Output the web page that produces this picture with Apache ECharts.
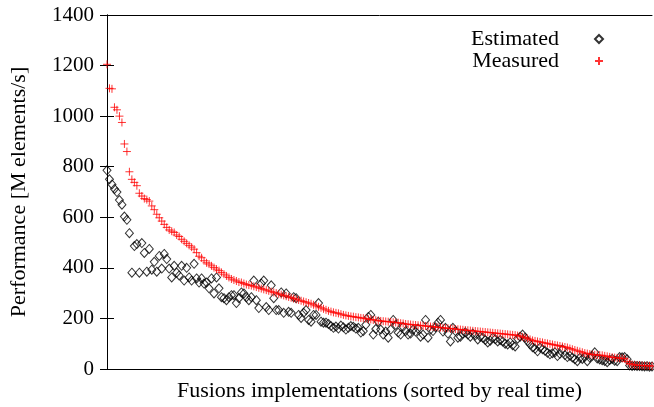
<!DOCTYPE html>
<html>
<head>
<meta charset="utf-8">
<script src="https://cdn.jsdelivr.net/npm/echarts@6/dist/echarts.min.js"></script>
<style>
  html, body { margin: 0; padding: 0; background: #fff; overflow: hidden; }
  #chart { width: 654px; height: 407px; }
</style>
</head>
<body>
<div id="chart"></div>
<script>
// Fusion implementations, ordered by measured (real) run time.
// Performance in millions of elements per second.
const seriesNames = ['Estimated', 'Measured'];
const yTicks = [0, 200, 400, 600, 800, 1000, 1200, 1400];

const measured = [
  1205, 1110, 1108, 1035, 1025, 1000, 975, 890, 860, 780,
  750, 738, 725, 695, 684, 674, 670, 664, 645, 630,
  612, 598, 585, 572, 560, 550, 545, 540, 530, 524,
  513, 505, 497, 489, 482, 474, 460, 446, 440, 428,
  420, 415, 408, 401, 395, 389, 382, 375, 368, 362,
  356, 352, 348, 344, 342, 338, 334, 332, 330, 327,
  324, 321, 318, 315, 312, 309, 306, 303, 300, 297,
  294, 291, 288, 285, 282, 279, 276, 273, 270, 267,
  264, 261, 258, 254, 250, 246, 242, 238, 234, 230,
  227, 224, 222, 220, 217, 214, 212, 210, 208, 207,
  205, 204, 202, 201, 199, 197, 196, 194, 193, 191,
  190, 189, 188, 187, 186, 185, 184, 183, 181, 180,
  178, 177, 176, 175, 174, 173, 172, 171, 170, 169,
  168, 167, 166, 165, 164, 163, 162, 161, 160, 159,
  158, 157, 156, 155, 154, 153, 152, 151, 150, 149,
  148, 147, 146, 145, 144, 143, 142, 141, 140, 139,
  138, 137, 136, 135, 134, 132, 130, 127, 124, 121,
  117, 113, 111, 109, 107, 105, 103, 101, 99, 97,
  95, 93, 91, 89, 87, 85, 81, 78, 75, 72,
  69, 66, 63, 61, 59, 57, 56, 55, 55, 54,
  52, 50, 48, 46, 45, 44, 43, 42, 40, 30,
  22, 18, 16, 15, 14, 14, 13, 13, 12, 12
];

const estimated = [
  786, 750, 730, 712, 700, 668, 650, 603, 590, 537,
  381, 486, 494, 381, 498, 459, 385, 475, 393, 424,
  385, 447, 397, 455, 435, 397, 362, 408, 381, 370,
  408, 350, 400, 362, 350, 416, 358, 342, 358, 338,
  342, 319, 358, 299, 362, 319, 284, 280, 272, 284,
  292, 292, 261, 280, 303, 299, 284, 272, 284, 350,
  272, 241, 338, 350, 245, 233, 331, 280, 233, 233,
  303, 222, 299, 226, 222, 284, 280, 214, 202, 222,
  233, 194, 187, 214, 214, 261, 187, 183, 183, 178,
  170, 163, 168, 160, 172, 165, 156, 163, 170, 167,
  160, 163, 144, 150, 175, 206, 214, 136, 158, 187,
  156, 136, 148, 124, 156, 194, 175, 144, 136, 167,
  150, 136, 140, 156, 148, 160, 128, 136, 194, 124,
  156, 150, 165, 183, 194, 148, 163, 140, 109, 163,
  150, 124, 128, 140, 145, 136, 128, 140, 132, 117,
  128, 124, 115, 105, 112, 124, 118, 109, 115, 109,
  100, 97, 105, 94, 89, 120, 128, 136, 124, 110,
  98, 86, 80, 70, 85, 78, 72, 64, 58, 62,
  66, 51, 60, 78, 55, 47, 52, 45, 39, 31,
  44, 40, 47, 31, 45, 51, 66, 42, 38, 35,
  32, 27, 36, 40, 33, 31, 47, 46, 47, 39,
  14, 12, 13, 12, 12, 11, 10, 11, 9, 10
];

const toPoints = arr => arr.map((v, i) => [i, v]);

const serif = 'Liberation Serif';
const plusPath = 'path://M0,5L10,5M5,0L5,10';

const chart = echarts.init(document.getElementById('chart'), null, { renderer: 'canvas' });

const textBase = { fontFamily: serif, fontSize: 22, color: '#000', fontWeight: 'normal' };

const yBase = {
  type: 'value',
  min: yTicks[0],
  max: yTicks[yTicks.length - 1],
  interval: 200,
  splitLine: { show: false },
  axisLine: { show: true, lineStyle: { color: '#000', width: 1 } },
  axisTick: { show: true, inside: true, length: 7, lineStyle: { color: '#000', width: 1 } }
};

chart.setOption({
  animation: false,
  backgroundColor: '#fff',
  textStyle: { fontFamily: serif },
  grid: { left: 106, right: 2, top: 15, bottom: 32, containLabel: false },
  legend: {
    orient: 'vertical',
    right: 45,
    top: 23,
    align: 'right',
    itemWidth: 8,
    itemHeight: 8,
    itemGap: 0,
    selectedMode: false,
    textStyle: Object.assign({}, textBase, { lineHeight: 20, padding: [0, 31, 0, 0] }),
    data: seriesNames
  },
  xAxis: [
    {
      type: 'value',
      min: 0,
      max: measured.length - 1,
      name: 'Fusions implementations (sorted by real time)',
      nameLocation: 'middle',
      nameGap: 11,
      nameTextStyle: Object.assign({}, textBase),
      splitLine: { show: false },
      axisLabel: { show: false },
      axisTick: { show: false },
      axisLine: { show: true, onZero: false, lineStyle: { color: '#000', width: 1 } }
    },
    {
      type: 'value',
      position: 'top',
      min: 0,
      max: measured.length - 1,
      splitLine: { show: false },
      axisLabel: { show: false },
      axisTick: { show: false },
      axisLine: { show: true, onZero: false, lineStyle: { color: '#000', width: 1 } }
    }
  ],
  yAxis: [
    Object.assign({}, yBase, {
      position: 'left',
      name: 'Performance [M elements/s]',
      nameLocation: 'middle',
      nameGap: 77,
      nameTextStyle: Object.assign({}, textBase),
      axisLabel: Object.assign({}, textBase, { fontSize: 21, margin: 13, formatter: v => String(v) })
    }),
    Object.assign({}, yBase, {
      position: 'right',
      axisLabel: { show: false }
    })
  ],
  series: [
    {
      name: seriesNames[0],
      type: 'scatter',
      symbol: 'diamond',
      symbolSize: [8, 9],
      itemStyle: { color: 'rgba(255,255,255,0)', borderColor: '#000', borderWidth: 1 },
      data: toPoints(estimated),
      z: 2
    },
    {
      name: seriesNames[1],
      type: 'scatter',
      symbol: plusPath,
      symbolSize: 8,
      itemStyle: { color: 'rgba(255,0,0,0)', borderColor: '#ff0000', borderWidth: 1 },
      data: toPoints(measured),
      z: 3
    }
  ]
});
</script>
</body>
</html>
